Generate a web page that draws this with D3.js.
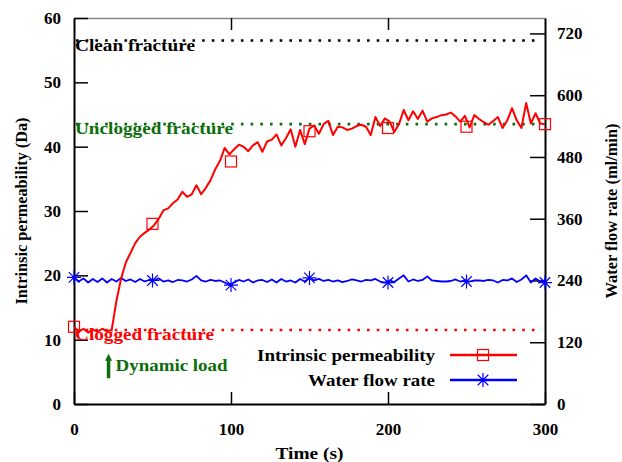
<!DOCTYPE html>
<html>
<head>
<meta charset="utf-8">
<script src="https://cdn.jsdelivr.net/npm/d3@7"></script>
<style>
  body { margin: 0; background: #fff; }
</style>
</head>
<body>
<div id="chart"></div>
<script>
// time (s), sampled every 3 s
const times = d3.range(0, 301, 3);

// intrinsic permeability (Da)
const permeability = [
  12.0, 11.2, 11.7, 11.1, 11.6, 11.2, 11.7, 11.3, 11.5, 16.0,
  19.5, 22.0, 23.5, 25.0, 26.0, 26.6, 27.1, 27.8, 28.8, 30.1,
  30.4, 31.2, 31.8, 33.0, 32.2, 32.6, 34.0, 32.6, 33.6, 34.8,
  36.5, 37.8, 39.8, 38.8, 39.6, 40.3, 40.0, 39.3, 40.2, 40.7,
  39.2, 40.8, 41.1, 41.9, 40.2, 41.3, 42.7, 40.0, 42.6, 40.4,
  42.8, 43.3, 42.0, 43.5, 44.0, 41.8, 43.1, 43.0, 42.6, 42.8,
  43.2, 43.4, 43.1, 41.8, 44.6, 43.2, 44.4, 43.9, 42.3, 43.5,
  45.7, 44.1, 45.5, 44.3, 45.6, 43.9, 44.4, 44.6, 44.9, 45.0,
  45.3, 44.7, 43.9, 44.8, 43.0, 44.9, 44.3, 43.8, 43.4, 44.0,
  44.6, 42.9, 44.1, 46.0, 44.1, 42.9, 46.8, 43.6, 45.2, 43.6,
  43.5
];

// water flow rate (ml/min)
const flowRate = [
  246, 238, 244, 236, 243, 237, 244, 236, 243, 238,
  245, 239, 242, 237, 243, 238, 241, 240, 244, 238,
  240, 237, 241, 240, 238, 242, 249, 240, 238, 241,
  239, 240, 236, 232, 236, 241, 238, 242, 236, 240,
  241, 237, 242, 236, 243, 238, 240, 236, 243, 238,
  245, 240, 243, 239, 241, 238, 240, 237, 239, 242,
  240, 238, 241, 240, 243, 238, 236, 240, 237, 244,
  250, 238, 242, 239, 241, 248, 240, 239, 238, 238,
  239, 242, 238, 240, 238, 240, 240, 239, 241, 240,
  236, 241, 240, 244, 237, 242, 250, 236, 244, 238,
  240
];

// marker positions (every 50 s)
const markTimes = [0, 50, 100, 150, 200, 250, 300];
const permMarks = [12.0, 28.0, 37.7, 42.4, 42.9, 43.1, 43.5];
const flowMarks = [246, 240, 231, 245, 236, 238, 236];

// reference levels (Da)
const refNames = ["Clean fracture", "Unclogged fracture", "Clogged fracture"];
const refValues = [56.5, 43.5, 11.5];
const refColors = ["#000000", "#0b6e0b", "#ff0000"];
const refWidths = [120, 158, 139];

const xTicks = [0, 100, 200, 300];
const yTicks = [0, 10, 20, 30, 40, 50, 60];
const y2Ticks = [0, 120, 240, 360, 480, 600, 720];

const seriesNames = ["Intrinsic permeability", "Water flow rate"];
const seriesColors = ["#ff0000", "#0000ff"];
const seriesWidths = [178, 127];

const loadTime = 22;
const loadRange = [4.0, 7.8];

const FONT = "Liberation Serif";
const width = 622, height = 462;
const margin = { top: 18, right: 77, bottom: 58, left: 74 };

const svg = d3.select("#chart").append("svg")
  .attr("width", width)
  .attr("height", height);

const x = d3.scaleLinear().domain([0, 300]).range([margin.left, width - margin.right]);
const y = d3.scaleLinear().domain([0, 60]).range([height - margin.bottom, margin.top]);
const y2 = d3.scaleLinear().domain([0, 750]).range([height - margin.bottom, margin.top]);

function label(sel, size, len) {
  sel.attr("font-family", FONT)
    .attr("font-weight", "bold")
    .attr("font-size", size);
  if (len) sel.attr("textLength", len).attr("lengthAdjust", "spacingAndGlyphs");
  return sel;
}

// axes
const gTop = svg.append("g")
  .attr("transform", `translate(0,${margin.top})`)
  .call(d3.axisTop(x).tickValues([100, 200]).tickSize(-12).tickSizeOuter(0).tickFormat(""));
gTop.select(".domain").attr("stroke", "#888").attr("stroke-width", 1.5);

const gBottom = svg.append("g")
  .attr("transform", `translate(0,${height - margin.bottom})`)
  .call(d3.axisBottom(x).tickValues(xTicks).tickSize(-12).tickSizeOuter(0).tickPadding(19));

const gLeft = svg.append("g")
  .attr("transform", `translate(${margin.left},0)`)
  .call(d3.axisLeft(y).tickValues(yTicks).tickSize(-14).tickSizeOuter(0).tickPadding(13));

const gRight = svg.append("g")
  .attr("transform", `translate(${width - margin.right},0)`)
  .call(d3.axisRight(y2).tickValues(y2Ticks).tickSize(-15).tickSizeOuter(0).tickPadding(12));

[gBottom, gLeft, gRight].forEach(g => {
  g.select(".domain").attr("stroke", "#000").attr("stroke-width", 2);
});
[gTop, gBottom, gLeft, gRight].forEach(g => {
  g.attr("font-family", null).attr("font-size", null);
  g.selectAll(".tick line").attr("stroke", "#000").attr("stroke-width", 1.5);
  label(g.selectAll(".tick text"), 17).attr("fill", "#000");
});

// reference dotted lines
refValues.forEach((v, i) => {
  svg.append("line")
    .attr("x1", x(0) + 2).attr("x2", x(300) - 4)
    .attr("y1", y(v)).attr("y2", y(v))
    .attr("stroke", refColors[i])
    .attr("stroke-width", 2.6)
    .attr("stroke-dasharray", "2.6,7.1");
  label(svg.append("text"), 16, refWidths[i])
    .attr("x", x(0) + 1)
    .attr("y", y(v) + 10)
    .attr("fill", refColors[i])
    .text(refNames[i]);
});

// series lines
const permLine = d3.line().x((d, i) => x(times[i])).y(d => y(d));
const flowLine = d3.line().x((d, i) => x(times[i])).y(d => y2(d));

svg.append("path")
  .datum(flowRate)
  .attr("fill", "none")
  .attr("stroke", seriesColors[1])
  .attr("stroke-width", 1.8)
  .attr("stroke-linejoin", "round")
  .attr("d", flowLine);

svg.append("path")
  .datum(permeability)
  .attr("fill", "none")
  .attr("stroke", seriesColors[0])
  .attr("stroke-width", 2)
  .attr("stroke-linejoin", "round")
  .attr("d", permLine);

// markers
const sq = 11;
function square(g, cx, cy) {
  g.append("rect")
    .attr("x", cx - sq / 2).attr("y", cy - sq / 2)
    .attr("width", sq).attr("height", sq)
    .attr("fill", "none")
    .attr("stroke", seriesColors[0])
    .attr("stroke-width", 1.2);
}
function star(g, cx, cy) {
  const r = 7;
  const p = d3.path();
  p.moveTo(cx - r, cy); p.lineTo(cx + r, cy);
  p.moveTo(cx, cy - r); p.lineTo(cx, cy + r);
  p.moveTo(cx - r * 0.75, cy - r * 0.75); p.lineTo(cx + r * 0.75, cy + r * 0.75);
  p.moveTo(cx - r * 0.75, cy + r * 0.75); p.lineTo(cx + r * 0.75, cy - r * 0.75);
  g.append("path")
    .attr("d", p.toString())
    .attr("stroke", seriesColors[1])
    .attr("stroke-width", 1.2)
    .attr("fill", "none");
}

const marks = svg.append("g");
markTimes.forEach((t, i) => {
  square(marks, x(t), y(permMarks[i]));
  star(marks, x(t), y2(flowMarks[i]));
});

// dynamic load arrow
const arrowX = x(loadTime);
svg.append("line")
  .attr("x1", arrowX).attr("x2", arrowX)
  .attr("y1", y(loadRange[0])).attr("y2", y(loadRange[1]) + 6)
  .attr("stroke", "#0b6e0b")
  .attr("stroke-width", 3.5);
svg.append("path")
  .attr("d", `M${arrowX - 3.5},${y(loadRange[1]) + 7} L${arrowX},${y(loadRange[1])} L${arrowX + 3.5},${y(loadRange[1]) + 7} Z`)
  .attr("fill", "#0b6e0b");
label(svg.append("text"), 16, 112)
  .attr("x", arrowX + 7)
  .attr("y", y(5.2))
  .attr("fill", "#0b6e0b")
  .text("Dynamic load");

// legend
const legendRight = 435;
const legendY = [355, 380];
seriesNames.forEach((name, i) => {
  label(svg.append("text"), 16, seriesWidths[i])
    .attr("x", legendRight - seriesWidths[i])
    .attr("y", legendY[i] + 6)
    .text(name);
  svg.append("line")
    .attr("x1", 450).attr("x2", 517)
    .attr("y1", legendY[i]).attr("y2", legendY[i])
    .attr("stroke", seriesColors[i])
    .attr("stroke-width", 2.4);
  if (i === 0) square(svg, 483, legendY[i]);
  else star(svg, 483, legendY[i]);
});

// axis titles
const mid = (margin.top + height - margin.bottom) / 2;
label(svg.append("text"), 16, 187)
  .attr("transform", `translate(27,${mid + 93.5}) rotate(-90)`)
  .text("Intrinsic permeability (Da)");

label(svg.append("text"), 16, 175)
  .attr("transform", `translate(617,${mid + 87.5}) rotate(-90)`)
  .text("Water flow rate (ml/min)");

label(svg.append("text"), 17, 68)
  .attr("x", (x(0) + x(300)) / 2 - 34)
  .attr("y", 459)
  .text("Time (s)");
</script>
</body>
</html>
